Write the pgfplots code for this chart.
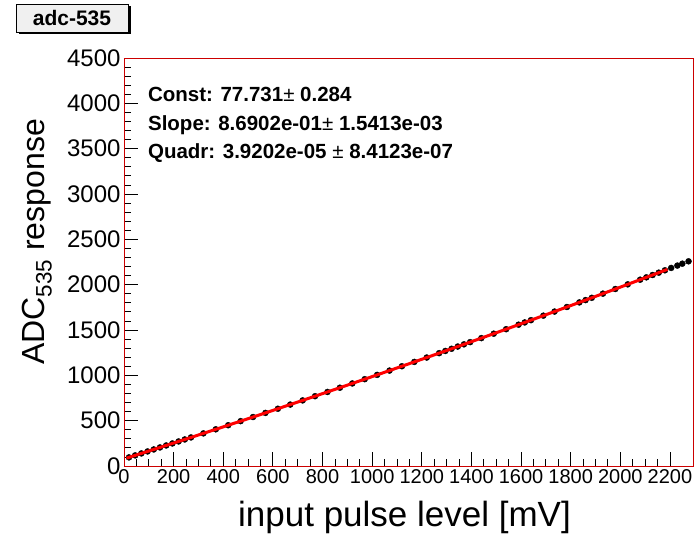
\documentclass[border=0pt]{standalone}
\usepackage{pgfplots}
\pgfplotsset{compat=1.18}
\usepackage{fontspec}
\setmainfont{Liberation Sans}
\begin{document}
\begin{tikzpicture}[x=1pt,y=1pt]
\useasboundingbox (0,0) rectangle (694,536);
% title box with shadow
\fill[black] (18.5,502) rectangle (130.5,530);
\filldraw[fill=black!6, draw=black, line width=0.8pt] (16,504) rectangle (128,532);
\node[anchor=center, inner sep=0] at (72,518) {\fontsize{21}{21}\selectfont\bfseries adc-535};
\begin{axis}[
  at={(124pt,70pt)}, anchor=south west,
  scale only axis, width=569pt, height=408pt,
  xmin=0, xmax=2293, ymin=0, ymax=4500,
  xtick={0,200,...,2200}, ytick={0,500,...,4500},
  minor x tick num=3, minor y tick num=4,
  tick align=inside, xtick pos=bottom, ytick pos=left,
  major tick length=14pt, minor tick length=7pt,
  tick style={draw=black, line width=0.8pt},
  axis line style={draw=none},
  scaled ticks=false,
  /pgf/number format/assume math mode=true,
  /pgf/number format/1000 sep={},
  xticklabel style={font=\fontsize{20}{20}\selectfont},
  yticklabel style={font=\fontsize{24}{24}\selectfont},
  xlabel={input pulse level [mV]},
  xlabel style={font=\fontsize{35}{35}\selectfont, at={(axis description cs:0.493,-0.1495)}, anchor=base},
  ylabel={ADC\textsubscript{535} response},
  ylabel style={font=\fontsize{32}{32}\selectfont, at={(axis description cs:-0.153,0.549)}, anchor=center},
  clip mode=individual,
]
\draw[red!80!black, line width=0.8pt] (rel axis cs:0,0) rectangle (rel axis cs:1,1);
\addplot[only marks, mark=*, mark size=3pt, black] coordinates {
(20,95.1) (45,116.9) (70,138.8) (95,160.6) (120,182.6) (145,204.6) (170,226.6)
(195,248.7) (220,270.8) (245,293.0) (270,315.2) (320,359.8) (370,404.6) (420,449.6)
(470,494.8) (520,540.2) (570,585.8) (620,631.6) (670,677.6) (720,723.7) (770,770.1)
(820,816.7) (870,863.5) (920,910.4) (970,957.6) (1020,1004.9) (1070,1052.5)
(1120,1100.2) (1170,1148.1) (1220,1196.3) (1270,1244.6) (1295,1268.9) (1320,1293.1)
(1345,1317.5) (1370,1341.9) (1395,1366.3) (1440,1410.4) (1490,1459.6) (1540,1509.0)
(1590,1558.6) (1615,1583.4) (1640,1608.4) (1690,1658.3) (1735,1703.5) (1785,1753.8)
(1835,1804.4) (1860,1829.7) (1885,1855.1) (1930,1901.0) (1980,1952.1) (2030,2003.4)
(2080,2054.9) (2105,2080.7) (2130,2106.6) (2155,2132.5) (2180,2158.5) (2205,2184.5)
(2230,2210.6) (2250,2231.5) (2275,2257.6) (2295,2278.6)
};
\addplot[draw=red, line width=3pt, smooth, no marks] coordinates {
(10,86.4) (250,297.4) (500,522.0) (750,751.6) (1000,986.0) (1250,1225.3)
(1500,1469.5) (1750,1718.6) (2000,1972.6) (2190,2168.9)
};
\node[anchor=base west, inner sep=0] at (axis description cs:0.042,0.893) {\fontsize{20.5}{20.5}\selectfont\bfseries Const: 77.731{\mdseries ±} 0.284};
\node[anchor=base west, inner sep=0] at (axis description cs:0.042,0.8235) {\fontsize{20.5}{20.5}\selectfont\bfseries Slope: 8.6902e-01{\mdseries ±} 1.5413e-03};
\node[anchor=base west, inner sep=0] at (axis description cs:0.042,0.7549) {\fontsize{20.5}{20.5}\selectfont\bfseries Quadr: 3.9202e-05 {\mdseries ±} 8.4123e-07};
\end{axis}
\end{tikzpicture}
\end{document}
